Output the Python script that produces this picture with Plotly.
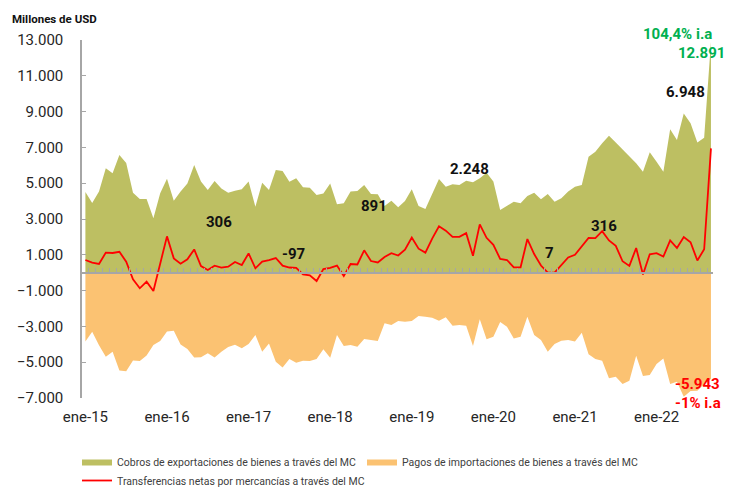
import plotly.graph_objects as go

# Monthly series, ene-15 .. sep-22 (millones de USD)
exports = [
    4510, 3890, 4530, 5840, 5560, 6580, 6130, 4470, 4120, 4120, 3040, 4440,
    5250, 4020, 4530, 4990, 6020, 5090, 4620, 5120, 4710, 4470, 4580, 4660,
    5090, 3690, 5030, 4620, 5740, 5680, 5080, 5270, 4770, 4750, 4340, 4430,
    4990, 3820, 3880, 4530, 4560, 4900, 4400, 4380, 3730, 4020, 3650, 4010,
    4660, 3730, 3560, 4400, 5240, 4800, 4940, 4900, 5140, 5050, 5280, 5590,
    5090, 3500, 3730, 3970, 3880, 4290, 4470, 4100, 4400, 3970, 4160, 4530,
    4800, 4900, 6480, 6760, 7230, 7650, 7280, 6890, 6480, 6110, 5640, 6730,
    6200, 5640, 8010, 7410, 8900, 8350, 7280, 7540, 12891,
]
imports = [
    -3850, -3300, -4060, -4690, -4420, -5460, -5510, -4900, -4930, -4620, -4040, -3820,
    -3280, -3240, -4010, -4260, -4740, -4730, -4500, -4740, -4410, -4150, -4020, -4220,
    -3980, -3480, -4410, -3950, -4970, -5290, -4820, -5030, -4920, -4930, -4820, -4280,
    -4750, -3480, -4100, -4040, -4130, -3700, -3760, -3820, -2830, -2920, -2700, -2740,
    -2700, -2420, -2460, -2510, -2680, -2490, -2960, -2920, -2960, -4100, -2600, -3720,
    -3580, -2750, -3020, -3670, -3580, -2460, -3480, -3760, -4410, -3980, -3800, -3760,
    -3850, -3350, -4560, -4820, -4920, -5900, -5810, -6220, -6030, -4640, -5770, -5720,
    -5100, -4790, -6220, -6090, -6930, -6610, -6590, -6220, -5943,
]
net = [
    710, 560, 490, 1120, 1100, 1170, 615, -370, -870, -500, -1020, 560,
    2030, 800, 500, 750, 1300, 370, 150, 390, 280, 335, 600, 430,
    1080, 245, 615, 700, 820, 390, 290, 270, -100, -150, -465, 200,
    270, 400, -190, 485, 460, 1250, 650, 570, 880, 1090, 960, 1290,
    1970, 1340, 1120, 1900, 2590, 2350, 2000, 2000, 2210, 950, 2700, 1950,
    1560, 770, 710, 300, 300, 1880, 1040, 400, 0, 10, 400, 850,
    1000, 1480, 1940, 1930, 2320, 1800, 1500, 640, 380, 1380, -100, 1030,
    1090, 900, 1810, 1380, 1990, 1700, 680, 1310, 6948,
]
x_idx = list(range(len(exports)))

year_ticks = [0, 12, 24, 36, 48, 60, 72, 84]
year_labels = ["ene-15", "ene-16", "ene-17", "ene-18", "ene-19", "ene-20", "ene-21", "ene-22"]
y_ticks = [-7000, -5000, -3000, -1000, 1000, 3000, 5000, 7000, 9000, 11000, 13000]

names = [
    "Cobros de exportaciones de bienes a través del MC",
    "Pagos de importaciones de bienes a través del MC",
    "Transferencias netas por mercancías a través del MC",
]

# figures written on the chart
label_text = ["306", "-97", "891", "2.248", "7", "316", "6.948"]
label_x = [19.6, 30.6, 42.4, 56.5, 68.2, 76.3, 88.2]
label_y = [2830, 1040, 3730, 5790, 1100, 2610, 10100]

GREEN = "#BDBF62"
ORANGE = "#FBC272"
RED = "#FF0000"
DKGREEN = "#00B050"
FONT = "Roboto"

# plot area in pixels: left 82, right 713, top 40, bottom 398
PW, PH = 631, 358


def px_x(x):
    return (x - 82) / PW


def px_y(y):
    return (398 - y) / PH


fig = go.Figure()

fig.add_trace(go.Scatter(
    x=x_idx, y=exports, name=names[0], mode="lines",
    fill="tozeroy", fillcolor=GREEN, line=dict(width=0, color=GREEN),
))
fig.add_trace(go.Scatter(
    x=x_idx, y=imports, name=names[1], mode="lines",
    fill="tozeroy", fillcolor=ORANGE, line=dict(width=0, color=ORANGE),
))
fig.add_trace(go.Scatter(
    x=x_idx, y=net, name=names[2], mode="lines",
    line=dict(width=1.8, color=RED),
))
# helper trace so the zero-line axis (x2) gets drawn
fig.add_trace(go.Scatter(
    x=x_idx, y=net, xaxis="x2", mode="lines", opacity=0,
    showlegend=False, hoverinfo="skip",
))

for txt, xv, yv in zip(label_text, label_x, label_y):
    fig.add_annotation(x=xv, y=yv, text=txt, showarrow=False,
                       font=dict(family=FONT, size=15, color="#111111", weight="bold"))

side_notes = [
    ("104,4% i.a", 714, 23, DKGREEN),
    ("12.891", 727, 42, DKGREEN),
    ("-5.943", 722, 395, RED),
    ("-1% i.a", 723, 414, RED),
]
for txt, xp, yp, col in side_notes:
    fig.add_annotation(x=px_x(xp), y=px_y(yp), xref="paper", yref="paper",
                       text=txt, showarrow=False,
                       font=dict(family=FONT, size=15, color=col, weight="bold"))

fig.add_annotation(x=px_x(10), y=px_y(19), xref="paper", yref="paper",
                   xanchor="left", yanchor="middle", text="Millones de USD",
                   showarrow=False,
                   font=dict(family=FONT, size=11.5, color="#111111", weight="bold"))

fig.update_layout(
    width=749, height=488,
    margin=dict(l=82, r=36, t=40, b=90, autoexpand=False),
    plot_bgcolor="white", paper_bgcolor="white",
    separators=",.",
    font=dict(family=FONT, size=15, color="#262626"),
    showlegend=True,
    legend=dict(
        orientation="h", x=px_x(77), y=px_y(447), xanchor="left", yanchor="top",
        font=dict(family=FONT, size=10.5, color="#404040"),
        itemwidth=30, tracegroupgap=0, entrywidth=240,
    ),
    xaxis=dict(
        range=[-0.5, 92.3], tickvals=year_ticks, ticktext=year_labels,
        showline=False, showgrid=False, zeroline=False, ticks="",
        ticklabelstandoff=8,
    ),
    xaxis2=dict(
        matches="x", overlaying="x", anchor="free", position=0.35,
        showline=True, linecolor="#A6A6A6", linewidth=2,
        tickmode="linear", tick0=0.5, dtick=1, ticks="inside", ticklen=4,
        tickcolor="#A6A6A6", tickwidth=1, showticklabels=False,
        showgrid=False, zeroline=False,
    ),
    yaxis=dict(
        range=[-7000, 13000], tickvals=y_ticks, tickformat=",d",
        showline=True, linecolor="#A6A6A6", linewidth=1.5,
        ticks="inside", ticklen=4, tickcolor="#A6A6A6",
        showgrid=False, zeroline=False, ticklabelstandoff=14,
    ),
)

# the page's default body margin would push the chart 8px off its frame
fig.write_html("out.html", config={"displayModeBar": False},
               post_script="document.body.style.margin='0';")
